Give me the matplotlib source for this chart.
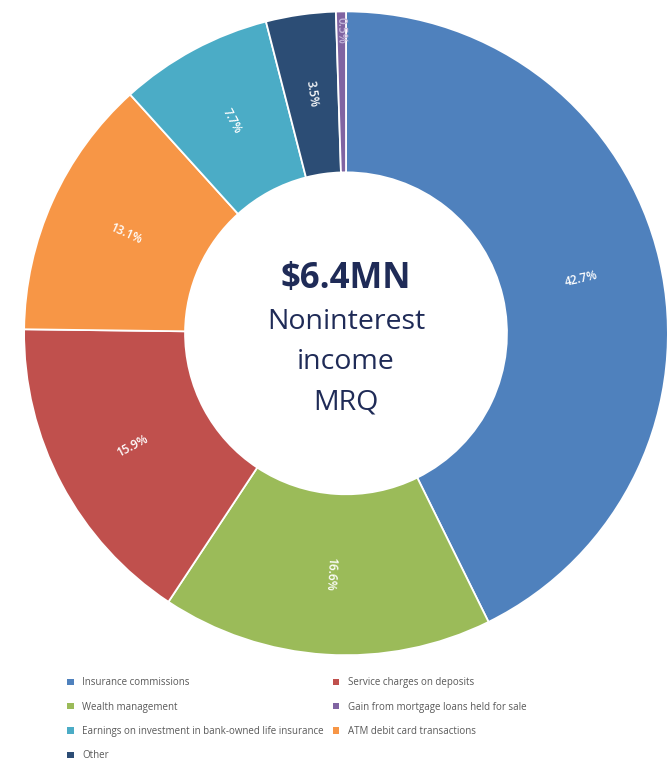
import matplotlib
matplotlib.use("Agg")
import matplotlib.pyplot as plt
from matplotlib.patches import Patch
import numpy as np

# slices, clockwise from 12 o'clock
categories = [
    "Insurance commissions",
    "Wealth management",
    "Service charges on deposits",
    "ATM debit card transactions",
    "Earnings on investment in bank-owned life insurance",
    "Other",
    "Gain from mortgage loans held for sale",
]
shares = [42.7, 16.6, 15.9, 13.1, 7.7, 3.5, 0.5]
colors = ["#4F81BD", "#9BBB59", "#C0504D", "#F79646", "#4BACC6", "#2C4D75", "#8064A2"]

# legend layout (two columns, row-wise as in the source)
legend_left = [
    "Insurance commissions",
    "Wealth management",
    "Earnings on investment in bank-owned life insurance",
    "Other",
]
legend_right = [
    "Service charges on deposits",
    "Gain from mortgage loans held for sale",
    "ATM debit card transactions",
]

plt.rcParams["font.family"] = ["Open Sans", "DejaVu Sans"]

fig = plt.figure(figsize=(6.67, 7.61), dpi=100)
ax = fig.add_axes([0.036, 0.139, 0.9655, 0.846])

wedges, _ = ax.pie(
    shares,
    colors=colors,
    startangle=90,
    counterclock=False,
    radius=1.0,
    wedgeprops=dict(width=0.5, edgecolor="white", linewidth=1.3),
)
ax.set_aspect("equal")
ax.set_xlim(-1, 1)
ax.set_ylim(-1, 1)

# percentage labels, rotated along the radius
for w, val in zip(wedges, shares):
    mid = (w.theta1 + w.theta2) / 2.0
    r = 0.94 if val < 1 else 0.75
    x = r * np.cos(np.radians(mid))
    y = r * np.sin(np.radians(mid))
    rot = mid
    while rot > 90:
        rot -= 180
    while rot < -100:
        rot += 180
    col = "#c4b6da" if val < 1 else "white"
    ax.text(x, y, f"{val:.1f}%", rotation=rot, rotation_mode="anchor",
            ha="center", va="center", fontsize=8.5, fontweight="semibold", color=col)

navy = "#1f2b57"
ax.text(0, 0.17, "$6.4MN", ha="center", va="center", fontsize=25,
        fontweight="bold", color=navy)
ax.text(0, 0.035, "Noninterest", ha="center", va="center", fontsize=20.5, color=navy)
ax.text(0, -0.09, "income", ha="center", va="center", fontsize=20.5, color=navy)
ax.text(0, -0.215, "MRQ", ha="center", va="center", fontsize=20.5, color=navy)

color_of = dict(zip(categories, colors))
leg_kw = dict(frameon=False, fontsize=7, handlelength=0.65, handleheight=0.65,
              handletextpad=0.9, labelspacing=1.37, borderpad=0, borderaxespad=0,
              loc="upper left", labelcolor="#595959")
h1 = [Patch(facecolor=color_of[c], edgecolor="none") for c in legend_left]
h2 = [Patch(facecolor=color_of[c], edgecolor="none") for c in legend_right]
fig.legend(h1, legend_left, bbox_to_anchor=(0.101, 0.110), **leg_kw)
fig.legend(h2, legend_right, bbox_to_anchor=(0.499, 0.110), **leg_kw)

fig.savefig("out.png", dpi=100)
